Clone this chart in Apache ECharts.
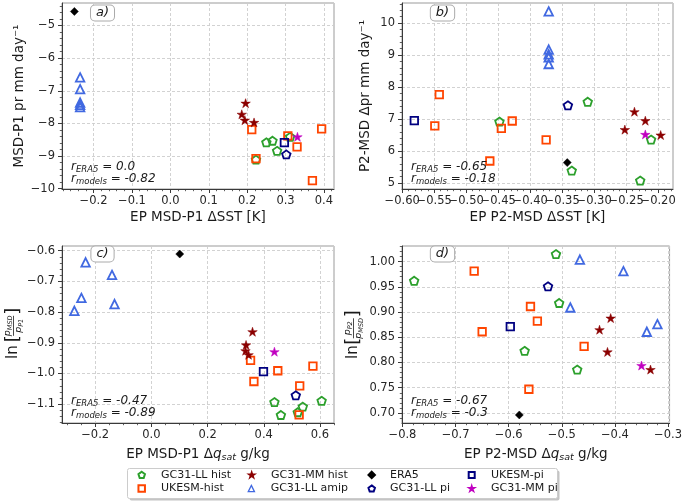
<!DOCTYPE html>
<html><head><meta charset="utf-8">
<script src="https://cdn.jsdelivr.net/npm/echarts@6/dist/echarts.min.js"></script>
<style>html,body{margin:0;padding:0;background:#fff}#c{width:685px;height:503px}</style>
</head><body><div id="c"></div>
<script>
const FONT = 'DejaVu Sans';
const groupNames = ['GC31-LL hist','UKESM-hist','GC31-MM hist','GC31-LL amip','ERA5','GC31-LL pi','UKESM-pi','GC31-MM pi'];

// Panel a) x: EP MSD-P1 dSST, y: MSD-P1 pr
const a_llHist = [[0.250,-8.58],[0.266,-8.53],[0.278,-8.84],[0.223,-9.11],[0.312,-8.41]];
const a_ukHist = [[0.212,-8.19],[0.306,-8.38],[0.394,-8.17],[0.330,-8.72],[0.223,-9.08],[0.370,-9.75]];
const a_mmHist = [[0.196,-7.38],[0.186,-7.72],[0.194,-7.90],[0.218,-7.97]];
const a_llAmip = [[-0.235,-6.59],[-0.235,-6.95],[-0.235,-7.36],[-0.235,-7.43],[-0.235,-7.50]];
const a_era5 = [[-0.250,-4.57]];
const a_llPi = [[0.302,-8.95]];
const a_ukPi = [[0.297,-8.59]];
const a_mmPi = [[0.331,-8.41]];

// Panel b)
const b_llHist = [[-0.448,6.92],[-0.310,7.54],[-0.335,5.39],[-0.211,6.36],[-0.228,5.08]];
const b_ukHist = [[-0.542,7.76],[-0.549,6.79],[-0.445,6.71],[-0.428,6.94],[-0.375,6.35],[-0.463,5.69]];
const b_mmHist = [[-0.252,6.67],[-0.237,7.23],[-0.220,6.95],[-0.196,6.50]];
const b_llAmip = [[-0.371,10.36],[-0.371,9.17],[-0.371,9.02],[-0.371,8.93],[-0.371,8.72]];
const b_era5 = [[-0.342,5.64]];
const b_llPi = [[-0.341,7.43]];
const b_ukPi = [[-0.581,6.95]];
const b_mmPi = [[-0.220,6.52]];

// Panel c)
const c_llHist = [[0.438,-1.093],[0.461,-1.135],[0.521,-1.126],[0.539,-1.108],[0.606,-1.089]];
const c_ukHist = [[0.353,-0.957],[0.365,-1.026],[0.450,-0.991],[0.528,-1.040],[0.575,-0.976],[0.526,-1.135]];
const c_mmHist = [[0.360,-0.864],[0.337,-0.907],[0.335,-0.926],[0.346,-0.939]];
const c_llAmip = [[-0.234,-0.638],[-0.140,-0.679],[-0.249,-0.754],[-0.131,-0.774],[-0.274,-0.796]];
const c_era5 = [[0.101,-0.611]];
const c_llPi = [[0.514,-1.071]];
const c_ukPi = [[0.399,-0.994]];
const c_mmPi = [[0.438,-0.929]];

// Panel d)
const d_llHist = [[-0.778,0.962],[-0.511,1.015],[-0.505,0.918],[-0.570,0.823],[-0.471,0.786]];
const d_ukHist = [[-0.665,0.981],[-0.650,0.861],[-0.559,0.911],[-0.546,0.882],[-0.458,0.832],[-0.562,0.747]];
const d_mmHist = [[-0.429,0.865],[-0.408,0.888],[-0.414,0.821],[-0.333,0.786]];
const d_llAmip = [[-0.466,1.004],[-0.384,0.981],[-0.484,0.909],[-0.340,0.861],[-0.320,0.876]];
const d_era5 = [[-0.580,0.696]];
const d_llPi = [[-0.526,0.951]];
const d_ukPi = [[-0.597,0.871]];
const d_mmPi = [[-0.350,0.794]];

const rERA5 = ['0.0','-0.65','-0.47','-0.67'];
const rModels = ['-0.82','-0.18','-0.89','-0.3'];
const panelLetters = ['a)','b)','c)','d)'];

const panels = [
  [a_llHist,a_ukHist,a_mmHist,a_llAmip,a_era5,a_llPi,a_ukPi,a_mmPi],
  [b_llHist,b_ukHist,b_mmHist,b_llAmip,b_era5,b_llPi,b_ukPi,b_mmPi],
  [c_llHist,c_ukHist,c_mmHist,c_llAmip,c_era5,c_llPi,c_ukPi,c_mmPi],
  [d_llHist,d_ukHist,d_mmHist,d_llAmip,d_era5,d_llPi,d_ukPi,d_mmPi]
];

const SYM = {
  pent: 'path://M0,-1L0.951,-0.309L0.588,0.809L-0.588,0.809L-0.951,-0.309Z',
  sq: 'path://M-1,-1L1,-1L1,1L-1,1Z',
  tri: 'path://M0,-1L1,1L-1,1Z',
  dia: 'path://M0,-1L1,0L0,1L-1,0Z',
  star: 'path://M0,-1L0.2245,-0.309L0.951,-0.309L0.3633,0.118L0.588,0.809L0,0.382L-0.588,0.809L-0.3633,0.118L-0.951,-0.309L-0.2245,-0.309Z'
};
const NONE = 'rgba(0,0,0,0)';
const STY = [
  {sym:SYM.pent, size:8.5, fill:NONE, stroke:'#2ca02c', bw:1.8, icon:6.5, ibw:null},
  {sym:SYM.sq, size:7.5, fill:NONE, stroke:'#ff4500', bw:1.8, icon:6.5, ibw:null},
  {sym:SYM.star, size:9.5, fill:'#8b0000', stroke:'#8b0000', bw:0.5, icon:4.6, ibw:null},
  {sym:SYM.tri, size:8.5, fill:NONE, stroke:'#4169e1', bw:1.8, icon:6.2, ibw:1.3},
  {sym:SYM.dia, size:8, fill:'#000', stroke:'#000', bw:0.5, icon:6.5, ibw:null},
  {sym:SYM.pent, size:8.5, fill:NONE, stroke:'#000080', bw:1.8, icon:6.5, ibw:null},
  {sym:SYM.sq, size:7.5, fill:NONE, stroke:'#000080', bw:1.8, icon:6.0, ibw:null},
  {sym:SYM.star, size:9.5, fill:'#c000c0', stroke:'#c000c0', bw:0.5, icon:4.6, ibw:null}
];

const grids = [
  {left:62, top:3, width:272, height:186},
  {left:402, top:3, width:271, height:186},
  {left:62, top:246, width:272, height:177},
  {left:402, top:246, width:271, height:177}
];
const AX = [
  {xs:0.1, ys:1, xd:1, yd:0, xm:5, ym:5},
  {xs:0.05, ys:1, xd:2, yd:0, xm:5, ym:5},
  {xs:0.2, ys:0.1, xd:1, yd:1, xm:4, ym:5},
  {xs:0.1, ys:0.05, xd:1, yd:2, xm:5, ym:5}
];

function extent(p, dim) {
  let lo = Infinity, hi = -Infinity;
  p.forEach(arr => arr.forEach(pt => { lo = Math.min(lo, pt[dim]); hi = Math.max(hi, pt[dim]); }));
  const m = 0.05 * (hi - lo);
  return [lo - m, hi + m];
}
function majors(e, s) {
  const out = [];
  for (let k = Math.ceil(e[0]/s - 1e-9); k*s <= e[1] + 1e-9; k++) out.push(+(k*s).toFixed(6));
  return out;
}
function minors(e, s, n) {
  const out = []; const ms = s / n;
  for (let k = Math.ceil(e[0]/ms - 1e-9); k*ms <= e[1] + 1e-9; k++) {
    if (((k % n) + n) % n !== 0) out.push(+(k*ms).toFixed(6));
  }
  return out;
}
function fmt(v, d) {
  const t = Math.abs(v) < 1e-9 ? (0).toFixed(d) : v.toFixed(d);
  return t.replace('-', '\u2212');
}

const AXC = '#3a3a3a';
const nameRich = {
  n: {fontSize:13.5, fontFamily:FONT, color:'#1a1a1a', lineHeight:18},
  q: {fontSize:13.5, fontFamily:FONT, fontStyle:'italic', color:'#1a1a1a', lineHeight:18},
  s: {fontSize:9.5, fontFamily:FONT, fontStyle:'italic', color:'#1a1a1a', lineHeight:18, padding:[8,0,0,0]}
};
const xNames = ['EP MSD-P1 ΔSST [K]','EP P2-MSD ΔSST [K]','{n|EP MSD-P1 Δ}{q|q}{s|sat}{n| g/kg}','{n|EP P2-MSD Δ}{q|q}{s|sat}{n| g/kg}'];
const xGaps = [21, 21, 22, 22];
const yNames = ['MSD-P1 pr mm day⁻¹','P2-MSD Δpr mm day⁻¹','',''];
const yGaps = [36, 30, 0, 0];

const xAxes = [], yAxes = [], series = [];
const exs = panels.map(p => extent(p, 0)), eys = panels.map(p => extent(p, 1));
const lab = {interval:0, showMinLabel:true, showMaxLabel:true, hideOverlap:false, fontSize:11.5, fontFamily:FONT, color:'#262626'};
panels.forEach((p, i) => {
  const ex = exs[i], ey = eys[i];
  const a = AX[i];
  const xmaj = majors(ex, a.xs), ymaj = majors(ey, a.ys);
  const common = {
    type:'value', gridIndex:i,
    axisLine:{show:true, onZero:false, lineStyle:{color:AXC, width:1}},
    splitLine:{show:false},
    minorTick:{show:false}
  };
  xAxes.push(Object.assign({}, common, {
    min:ex[0], max:ex[1], position:'bottom',
    name:xNames[i], nameLocation:'middle', nameGap:xGaps[i],
    nameTextStyle:{fontSize:13.5, fontFamily:FONT, color:'#1a1a1a', rich:nameRich},
    axisTick:{show:true, length:4, interval:0, customValues:xmaj, lineStyle:{color:AXC}},
    axisLabel:Object.assign({}, lab, {customValues:xmaj.filter((v, k) => k % 2 === 0), formatter:v => fmt(v, a.xd), margin:6})
  }));
  yAxes.push(Object.assign({}, common, {
    min:ey[0], max:ey[1], position:'left',
    name:yNames[i], nameLocation:'middle', nameGap:yGaps[i],
    nameTextStyle:{fontSize:13.5, fontFamily:FONT, color:'#1a1a1a'},
    axisTick:{show:true, length:4, interval:0, customValues:ymaj, lineStyle:{color:AXC}},
    axisLabel:Object.assign({}, lab, {customValues:ymaj, formatter:v => fmt(v, a.yd), margin:7})
  }));
  p.forEach((arr, g) => {
    const s = STY[g];
    series.push({
      type:'scatter', name:groupNames[g], xAxisIndex:i, yAxisIndex:i, data:arr,
      symbol:s.sym, symbolSize:s.size, symbolKeepAspect:true,
      itemStyle:{color:s.fill, borderColor:s.stroke, borderWidth:s.bw, opacity:1},
      emphasis:{disabled:true}, silent:true
    });
  });
});
// minor tick axes (indices 4..7)
panels.forEach((p, i) => {
  const ex = exs[i], ey = eys[i];
  const a = AX[i];
  const base = {type:'value', gridIndex:i, axisLine:{show:false, onZero:false}, axisLabel:{show:false}, splitLine:{show:false}};
  xAxes.push(Object.assign({}, base, {min:ex[0], max:ex[1], position:'bottom',
    axisTick:{show:true, interval:0, length:2.2, customValues:minors(ex, a.xs, a.xm), lineStyle:{color:AXC, width:0.8}}}));
  yAxes.push(Object.assign({}, base, {min:ey[0], max:ey[1], position:'left',
    axisTick:{show:true, interval:0, length:2.2, customValues:minors(ey, a.ys, a.ym), lineStyle:{color:AXC, width:0.8}}}));
});
// grid-line axes (indices 8..11)
panels.forEach((p, i) => {
  const ex = exs[i], ey = eys[i];
  const a = AX[i];
  const base = {type:'value', gridIndex:i, axisLine:{show:false, onZero:false}, axisLabel:{show:false}, axisTick:{show:false},
    splitLine:{show:true, lineStyle:{color:'#cdcdcd', type:[3,2], width:0.9}}};
  xAxes.push(Object.assign({}, base, {min:ex[0], max:ex[1], position:'bottom', minInterval:a.xs, maxInterval:a.xs}));
  yAxes.push(Object.assign({}, base, {min:ey[0], max:ey[1], position:'left', minInterval:a.ys, maxInterval:a.ys}));
});
// second x label set (odd majors) so crowded labels are all drawn (x indices 12..15)
panels.forEach((p, i) => {
  const ex = exs[i];
  const a = AX[i];
  const xmaj = majors(ex, a.xs);
  xAxes.push({type:'value', gridIndex:i, min:ex[0], max:ex[1], position:'bottom',
    axisLine:{show:false, onZero:false}, axisTick:{show:false}, splitLine:{show:false},
    axisLabel:Object.assign({}, lab, {customValues:xmaj.filter((v, k) => k % 2 === 1), formatter:v => fmt(v, a.xd), margin:6})});
});

const graphics = [];
grids.forEach((g, i) => {
  const bottom = g.top + g.height;
  graphics.push({
    type:'text', x:g.left + 9, y:bottom - 28, z:40,
    style:{
      text:'{r|r}{s|ERA5}{r| = ' + rERA5[i] + '}\n{r|r}{s|models}{r| = ' + rModels[i] + '}',
      align:'left', verticalAlign:'top', textAlign:'left', textVerticalAlign:'top',
      rich:{
        r:{fontSize:12, fontStyle:'italic', fontFamily:FONT, fill:'#1a1a1a', lineHeight:12},
        s:{fontSize:8.5, fontStyle:'italic', fontFamily:FONT, fill:'#1a1a1a', lineHeight:12, padding:[5,0,0,0]}
      }
    }
  });
  graphics.push({
    type:'text', x:g.left + 40.5, y:g.top + (i < 2 ? 10 : 8), z:50,
    style:{
      text:panelLetters[i], fontSize:13, fontStyle:'italic', fontFamily:FONT, fill:'#1a1a1a',
      align:'center', verticalAlign:'middle', textAlign:'center', textVerticalAlign:'middle',
      backgroundColor:'#fff', borderColor:'#aaaaaa', borderWidth:1, borderRadius:4, padding:[1,5,1,5]
    }
  });
});

function fracLabel(cx, cy, numSub, denSub, gapAfterLn) {
  const pr = {
    p:{fontSize:9.5, fontStyle:'italic', fontFamily:FONT, fill:'#1a1a1a', lineHeight:10},
    s:{fontSize:6.5, fontStyle:'italic', fontFamily:FONT, fill:'#1a1a1a', lineHeight:10, padding:[4,0,0,0]}
  };
  const bx = -10.8 + gapAfterLn;
  const fc = bx + 6 + 10.5;
  return {
    type:'group', x:cx, y:cy, rotation:Math.PI/2, z:40,
    children:[
      {type:'text', x:-24.5, y:0, style:{text:'ln', fontSize:15, fontFamily:FONT, fill:'#1a1a1a', align:'left', verticalAlign:'middle', textAlign:'left', textVerticalAlign:'middle'}},
      {type:'text', x:bx, y:0, style:{text:'[', fontSize:18, fontFamily:FONT, fill:'#1a1a1a', align:'left', verticalAlign:'middle', textAlign:'left', textVerticalAlign:'middle'}},
      {type:'text', x:fc, y:-5, style:{text:'{p|p}{s|' + numSub + '}', align:'center', verticalAlign:'middle', textAlign:'center', textVerticalAlign:'middle', rich:pr}},
      {type:'line', shape:{x1:fc - 10, y1:0.5, x2:fc + 10, y2:0.5}, style:{stroke:'#1a1a1a', lineWidth:0.8}},
      {type:'text', x:fc, y:6, style:{text:'{p|p}{s|' + denSub + '}', align:'center', verticalAlign:'middle', textAlign:'center', textVerticalAlign:'middle', rich:pr}},
      {type:'text', x:fc + 11, y:0, style:{text:']', fontSize:18, fontFamily:FONT, fill:'#1a1a1a', align:'left', verticalAlign:'middle', textAlign:'left', textVerticalAlign:'middle'}}
    ]
  };
}
graphics.push(fracLabel(13, 334.5, 'MSD', 'P1', 3));
graphics.push(fracLabel(353, 334.5, 'P2', 'MSD', 0.5));

// legend frame
graphics.push({type:'rect', shape:{x:129.5, y:470.5, width:430, height:30, r:2}, style:{fill:'#c4c4c4'}, z:1});
graphics.push({type:'rect', shape:{x:127.5, y:468.5, width:430, height:30, r:2}, style:{fill:'#fff', stroke:'#cccccc', lineWidth:1}, z:2});

// legend: column-major order, 4 columns x 2 rows; one component per entry
const legendIconCenter = [140.7, 250.7, 370.7, 470.7];
const legendTextStart = [160, 270, 389, 490];
const legendRowCenter = [475.7, 489.3];
const legends = groupNames.map((name, g) => {
  const col = Math.floor(g / 2), row = g % 2;
  const sz = STY[g].icon;
  const lg = {
    data:[name], orient:'vertical', align:'left',
    left:legendIconCenter[col] - sz / 2, top:legendRowCenter[row] - 6.3, padding:0,
    itemWidth:sz, itemHeight:sz, selectedMode:false, z:10,
    textStyle:{fontSize:11, fontFamily:FONT, color:'#1a1a1a',
      padding:[0, 0, 0, legendTextStart[col] - legendIconCenter[col] - sz / 2 - 5]}
  };
  if (STY[g].ibw != null) lg.itemStyle = {borderWidth:STY[g].ibw};
  return lg;
});

const chart = echarts.init(document.getElementById('c'), null, {renderer:'canvas', width:685, height:503});
chart.setOption({
  animation:false,
  backgroundColor:'#fff',
  textStyle:{fontFamily:FONT},
  grid:grids.map(g => Object.assign({show:true, borderColor:'#9a9a9a', borderWidth:1, backgroundColor:'transparent', containLabel:false}, g)),
  xAxis:xAxes, yAxis:yAxes, series:series, legend:legends, graphic:graphics
});
</script></body></html>
